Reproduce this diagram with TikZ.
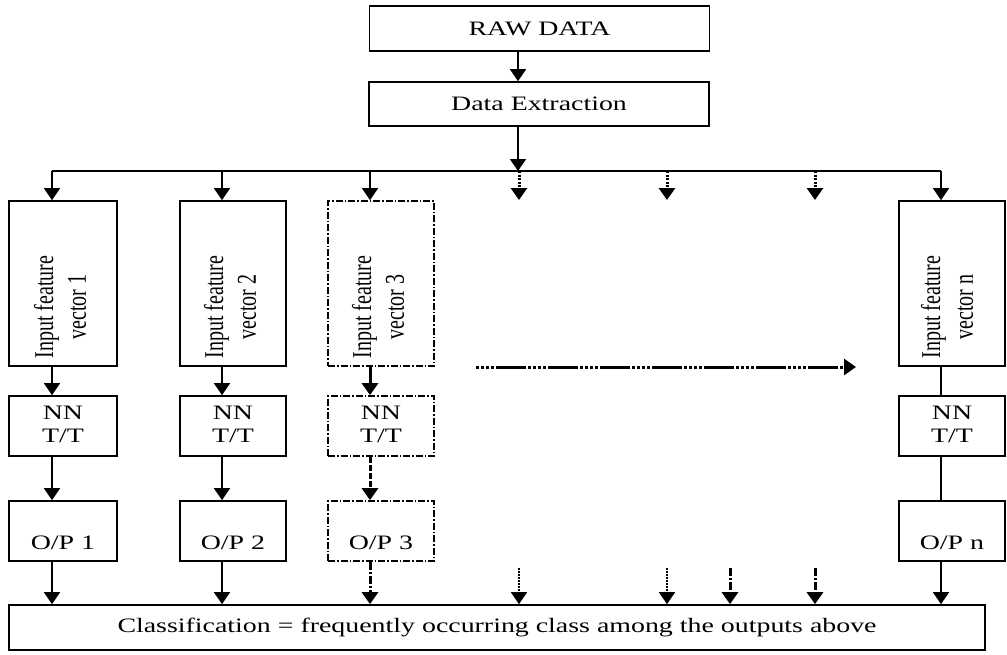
\documentclass[tikz,border=0pt]{standalone}
\usepackage{fontspec}
\setmainfont{Liberation Serif}
\usetikzlibrary{arrows.meta,calc}
\newcommand\hs[1]{\scalebox{1.36}[1]{#1}}
\newcommand\vs[1]{\scalebox{1}[1.36]{\begin{tabular}{@{}c@{}}#1\end{tabular}}}
\begin{document}
\begin{tikzpicture}[x=1pt,y=-1pt,
  box/.style={draw,line width=1.7pt,rectangle,inner sep=0pt,font=\fontsize{20.5}{23}\selectfont},
  dbox/.style={box,dash pattern=on 7pt off 2pt on 1.5pt off 2pt},
  txt/.style={inner sep=0pt,font=\fontsize{20.5}{23}\selectfont},
  vtxt/.style={inner sep=0pt,font=\fontsize{20}{24}\selectfont,rotate=90},
  tip/.style={-{Triangle[width=16pt,length=12pt]}},
  arr/.style={line width=1.6pt,tip},
  plain/.style={line width=1.6pt},
  dotarr/.style={line width=3pt,tip,dash pattern=on 2pt off 1.5pt},
  fdotarr/.style={line width=1.6pt,tip,dash pattern=on 1.5pt off 1.5pt},
  ddarr/.style={line width=3pt,tip,dash pattern=on 8pt off 2pt on 2pt off 2pt},
  tharr/.style={line width=3pt,tip},
  thdash/.style={line width=3pt,tip,dash pattern=on 6pt off 2pt},
  longarr/.style={line width=3pt,tip,dash pattern=on 3pt off 2pt on 3pt off 2pt on 3pt off 2pt on 3pt off 2pt on 30pt off 2pt}
]
\useasboundingbox (0,0) rectangle (1007,654);
\fill[white] (0,0) rectangle (1007,654);

% top boxes
\node[box,minimum width=340pt,minimum height=45pt] (raw) at (539.5,28.5) {\hs{RAW DATA}};
\node[box,minimum width=340pt,minimum height=44pt] (ext) at (539,104) {\hs{Data Extraction}};

% branch coordinates on the distribution line
\coordinate (tm) at (518,171);
\coordinate (t1) at (52,171);
\coordinate (t2) at (222,171);
\coordinate (t3) at (370,171);
\coordinate (t4) at (519,171);
\coordinate (t5) at (667,171);
\coordinate (t6) at (815,171);
\coordinate (tn) at (941,171);

% feature boxes
\node[box,minimum width=108pt,minimum height=165pt] (f1) at (63,283.5) {};
\node[box,minimum width=106pt,minimum height=165pt] (f2) at (233,283.5) {};
\node[dbox,minimum width=106pt,minimum height=165pt] (f3) at (381,283.5) {};
\node[box,minimum width=106pt,minimum height=165pt] (fn) at (952,283.5) {};
\node[vtxt] (f1t) at (63,307) {\vs{Input feature\\vector 1}};
\node[vtxt] (f2t) at (233,307) {\vs{Input feature\\vector 2}};
\node[vtxt] (f3t) at (381,307) {\vs{Input feature\\vector 3}};
\node[vtxt] (fnt) at (950,307) {\vs{Input feature\\vector n}};

% NN boxes
\node[box,minimum width=108pt,minimum height=60pt] (nn1) at (63,426) {\hs{\begin{tabular}{@{}c@{}}NN\\T/T\end{tabular}}};
\node[box,minimum width=106pt,minimum height=60pt] (nn2) at (233,426) {\hs{\begin{tabular}{@{}c@{}}NN\\T/T\end{tabular}}};
\node[dbox,minimum width=106pt,minimum height=60pt] (nn3) at (381,426) {\hs{\begin{tabular}{@{}c@{}}NN\\T/T\end{tabular}}};
\node[box,minimum width=106pt,minimum height=60pt] (nnn) at (952,426) {\hs{\begin{tabular}{@{}c@{}}NN\\T/T\end{tabular}}};

% O/P boxes
\node[box,minimum width=108pt,minimum height=60pt] (op1) at (63,531) {};
\node[box,minimum width=106pt,minimum height=60pt] (op2) at (233,531) {};
\node[dbox,minimum width=106pt,minimum height=60pt] (op3) at (381,531) {};
\node[box,minimum width=106pt,minimum height=60pt] (opn) at (952,531) {};
\node[txt] (op1t) at (63,543) {\hs{O/P 1}};
\node[txt] (op2t) at (233,543) {\hs{O/P 2}};
\node[txt] (op3t) at (381,543) {\hs{O/P 3}};
\node[txt] (opnt) at (952,543) {\hs{O/P n}};

% classification box
\node[box,minimum width=976pt,minimum height=45pt] (cls) at (497,627.5) {\hs{Classification = frequently occurring class among the outputs above}};

% top connectors
\draw[arr] (tm |- raw.south) -- (tm |- ext.north);
\draw[arr] (tm |- ext.south) -- (tm);
\draw[plain] (t1) -- (tn);
\draw[arr] (t1) -- (t1 |- f1.north);
\draw[arr] (t2) -- (t2 |- f2.north);
\draw[arr] (t3) -- (t3 |- f3.north);
\draw[arr] (tn) -- (tn |- fn.north);
\coordinate (d4) at (519,200);
\coordinate (d5) at (667,200);
\coordinate (d6) at (815,200);
\draw[dotarr] (t4) -- (d4);
\draw[dotarr] (t5) -- (d5);
\draw[dotarr] (t6) -- (d6);

% column connectors
\draw[arr] (t1 |- f1.south) -- (t1 |- nn1.north);
\draw[arr] (t2 |- f2.south) -- (t2 |- nn2.north);
\draw[tharr] (t3 |- f3.south) -- (t3 |- nn3.north);
\draw[plain] (tn |- fn.south) -- (tn |- nnn.north);

\draw[arr] (t1 |- nn1.south) -- (t1 |- op1.north);
\draw[arr] (t2 |- nn2.south) -- (t2 |- op2.north);
\draw[thdash] (t3 |- nn3.south) -- (t3 |- op3.north);
\draw[plain] (tn |- nnn.south) -- (tn |- opn.north);

\draw[arr] (t1 |- op1.south) -- (t1 |- cls.north);
\draw[arr] (t2 |- op2.south) -- (t2 |- cls.north);
\draw[ddarr] (t3 |- op3.south) -- (t3 |- cls.north);
\draw[arr] (tn |- opn.south) -- (tn |- cls.north);

% bottom partial arrows
\coordinate (b4) at (519,568);
\coordinate (b5) at (667,568);
\coordinate (b6) at (730,568);
\coordinate (b7) at (815,568);
\draw[fdotarr] (b4) -- (b4 |- cls.north);
\draw[fdotarr] (b5) -- (b5 |- cls.north);
\draw[ddarr] (b6) -- (b6 |- cls.north);
\draw[ddarr] (b7) -- (b7 |- cls.north);

% horizontal continuation arrow
\coordinate (h1) at (476,367);
\coordinate (h2) at (856,367);
\draw[longarr] (h1) -- (h2);
\end{tikzpicture}
\end{document}
